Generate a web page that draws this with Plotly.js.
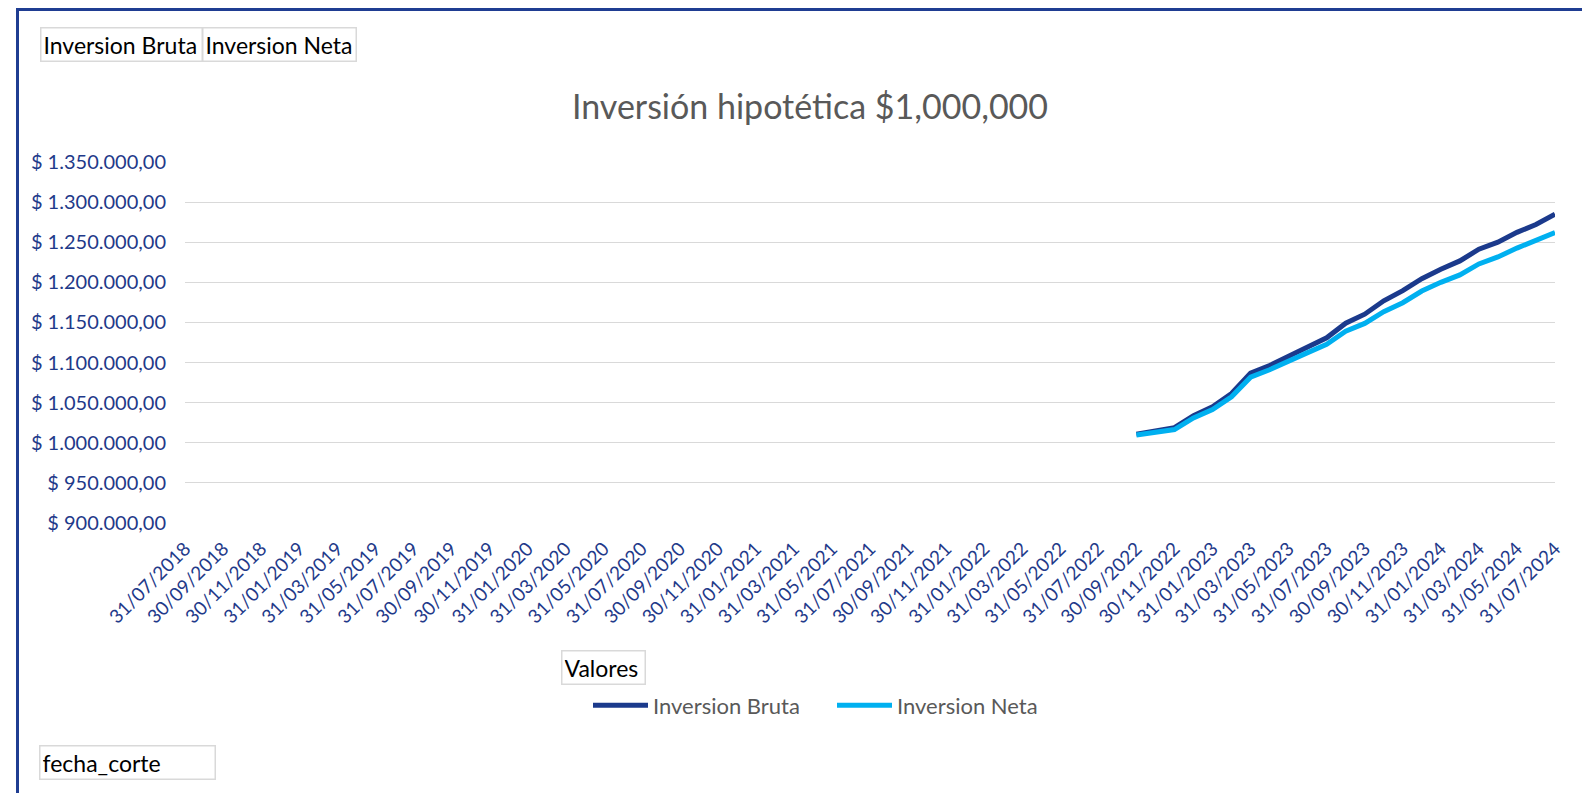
<!DOCTYPE html>
<html>
<head>
<meta charset="utf-8">
<script src="https://cdn.plot.ly/plotly-3.0.1.min.js"></script>
<style>
  html, body { margin: 0; padding: 0; background: #ffffff; overflow: hidden; }
  #chart { position: absolute; left: 0; top: 0; width: 1582px; height: 793px; }
  #frame { position: absolute; left: 16px; top: 8px; width: 1700px; height: 900px;
           border-top: 3.5px solid #1f3d92; border-left: 3.5px solid #1f3d92; pointer-events: none; }
</style>
</head>
<body>
<div id="chart"></div>
<div id="frame"></div>
<script>
// ---- data ----
const fechas = [
  "31/07/2018","31/08/2018","30/09/2018","31/10/2018","30/11/2018","31/12/2018",
  "31/01/2019","28/02/2019","31/03/2019","30/04/2019","31/05/2019","30/06/2019",
  "31/07/2019","31/08/2019","30/09/2019","31/10/2019","30/11/2019","31/12/2019",
  "31/01/2020","29/02/2020","31/03/2020","30/04/2020","31/05/2020","30/06/2020",
  "31/07/2020","31/08/2020","30/09/2020","31/10/2020","30/11/2020","31/12/2020",
  "31/01/2021","28/02/2021","31/03/2021","30/04/2021","31/05/2021","30/06/2021",
  "31/07/2021","31/08/2021","30/09/2021","31/10/2021","30/11/2021","31/12/2021",
  "31/01/2022","28/02/2022","31/03/2022","30/04/2022","31/05/2022","30/06/2022",
  "31/07/2022","31/08/2022","30/09/2022","31/10/2022","30/11/2022","31/12/2022",
  "31/01/2023","28/02/2023","31/03/2023","30/04/2023","31/05/2023","30/06/2023",
  "31/07/2023","31/08/2023","30/09/2023","31/10/2023","30/11/2023","31/12/2023",
  "31/01/2024","29/02/2024","31/03/2024","30/04/2024","31/05/2024","30/06/2024",
  "31/07/2024"
];
const fechasDatos = fechas.slice(fechas.indexOf("30/09/2022"));
const inversionBruta = [1010800, 1014600, 1018800, 1033800, 1044800, 1061500, 1086800, 1096200,
  1108600, 1119300, 1130800, 1149000, 1160300, 1177000, 1189600, 1204600, 1216300, 1226700,
  1241300, 1250000, 1262300, 1272100, 1285000];
const inversionNeta = [1009600, 1013000, 1016500, 1031000, 1041500, 1057300, 1081800, 1091000,
  1102400, 1112400, 1122800, 1139000, 1148800, 1163400, 1174600, 1189200, 1200000, 1209200,
  1222900, 1231700, 1242700, 1252100, 1262100];
const etiquetasX = fechas.filter((f, i) => i % 2 === 0);
const titulo = "Inversión hipotética $1,000,000";

// ---- layout helpers (pixel -> paper) ----
const W = 1582, H = 793;
const L = 185, R = 1555, T = 162, B = 523.3;
const px = x => (x - L) / (R - L);
const py = y => (B - y) / (B - T);

const FONT = "Lato, 'Open Sans', sans-serif";
const NAVY = "#1f3a8a";

const traces = [
  { x: fechasDatos, y: inversionBruta, name: "Inversion Bruta", type: "scatter", mode: "lines",
    line: { color: "#1b3a8c", width: 5 }, hoverinfo: "x+y" },
  { x: fechasDatos, y: inversionNeta, name: "Inversion Neta", type: "scatter", mode: "lines",
    line: { color: "#00b0f0", width: 5 }, hoverinfo: "x+y" }
];

function boton(text, x, y, w) {
  return { text: text, xref: "paper", yref: "paper", x: px(x), y: py(y),
    xanchor: "left", yanchor: "top", showarrow: false, align: "left", width: w,
    font: { family: FONT, size: 23, color: "#000000" },
    bordercolor: "#d9d9d9", borderwidth: 1.5, borderpad: 2, bgcolor: "#ffffff" };
}

const layout = {
  width: W, height: H,
  margin: { l: L, r: W - R, t: T, b: H - B, pad: 0 },
  paper_bgcolor: "#ffffff", plot_bgcolor: "#ffffff",
  separators: ",.",
  showlegend: true,
  title: { text: titulo, xref: "paper", x: px(810), xanchor: "center",
           yref: "container", y: 1 - 107 / H, yanchor: "middle",
           font: { family: FONT, size: 34, color: "#595959" } },
  xaxis: {
    type: "category", categoryorder: "array", categoryarray: fechas,
    range: [0, fechas.length - 1],
    tickmode: "array", tickvals: etiquetasX, ticktext: etiquetasX,
    tickangle: -45, ticks: "", ticklabelstandoff: 10,
    showgrid: false, zeroline: false, showline: false,
    tickfont: { family: FONT, size: 19, color: NAVY }
  },
  yaxis: {
    range: [900000, 1350000], dtick: 50000, tick0: 900000,
    tickprefix: "$ ", tickformat: ",.2f",
    ticks: "", ticklabelstandoff: 18,
    showgrid: true, gridcolor: "#d9d9d9", gridwidth: 1.2,
    zeroline: false, showline: false,
    tickfont: { family: FONT, size: 20, color: NAVY }
  },
  legend: { orientation: "h", xref: "paper", yref: "paper", x: px(588), xanchor: "left",
            y: py(706), yanchor: "middle", itemwidth: 55,
            entrywidth: 174, entrywidthmode: "pixels",
            font: { family: FONT, size: 22, color: "#595959" }, bgcolor: "rgba(0,0,0,0)" },
  annotations: [
    boton("Inversion Bruta", 40, 27, 156),
    boton("Inversion Neta", 202, 27, 148),
    boton("Valores", 561, 650, 78),
    boton("fecha_corte", 39, 745, 170)
  ]
};

Plotly.newPlot("chart", traces, layout, { displayModeBar: false, staticPlot: true });
</script>
</body>
</html>
